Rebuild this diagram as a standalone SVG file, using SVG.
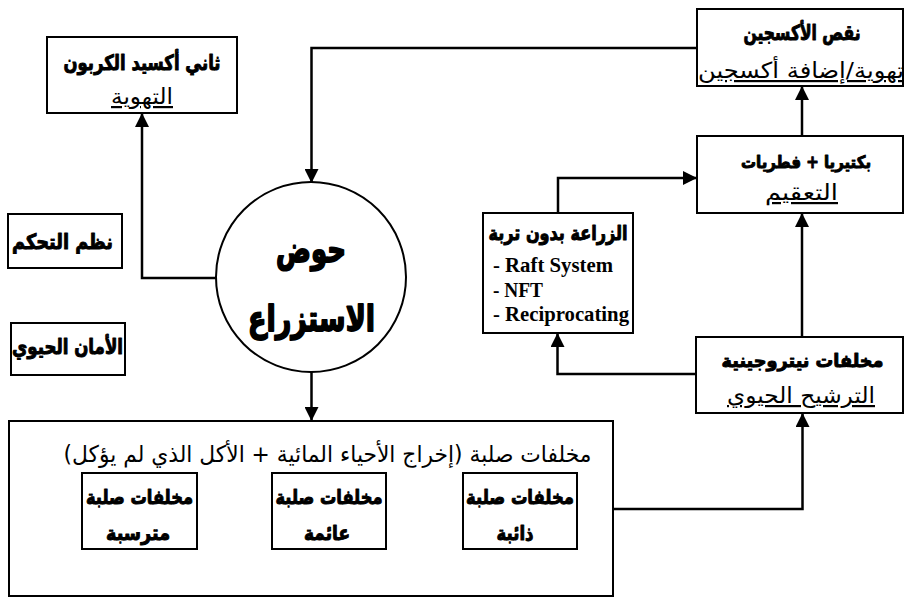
<svg xmlns="http://www.w3.org/2000/svg" width="905" height="597" viewBox="0 0 905 597">
<style>
.box{fill:#fff;stroke:#000;stroke-width:2}
.con{fill:none;stroke:#000;stroke-width:2.5;marker-end:url(#ah)}
.h{font-family:"DejaVu Sans","Noto Sans",sans-serif;font-weight:bold;fill:#000;stroke:#000;stroke-width:1;stroke-linejoin:round;text-anchor:middle}
.big{stroke-width:1.8}
.r{font-family:"DejaVu Sans","Noto Sans",sans-serif;fill:#000;text-anchor:middle}
.u{text-decoration:underline}
.en{font-family:"Liberation Serif","Times New Roman",serif;font-weight:bold;font-size:20px;fill:#000}
</style>
<defs>
<marker id="ah" markerUnits="userSpaceOnUse" markerWidth="14" markerHeight="14" refX="14" refY="7" orient="auto">
<path d="M0,0 L14,7 L0,14 z" fill="#000"/>
</marker>
</defs>
<rect width="905" height="597" fill="#fff"/>
<g id="connectors">
<path class="con" d="M216,278 H142 V113"/>
<path class="con" d="M697,48 H311.5 V183"/>
<path class="con" d="M802,136 V86"/>
<path class="con" d="M558,213 V178 H697"/>
<path class="con" d="M802,337 V213"/>
<path class="con" d="M696,374 H557.5 V333"/>
<path class="con" d="M613,509 H802.5 V413"/>
<path class="con" d="M311.5,372 V421"/>
</g>
<g id="n-co2">
<rect class="box" x="47" y="37" width="190" height="76"/>
<text class="h" x="142" y="70" font-size="21" textLength="157" lengthAdjust="spacingAndGlyphs">ثاني أكسيد الكربون</text>
<text class="r u" x="142" y="104" font-size="22" textLength="62" lengthAdjust="spacingAndGlyphs">التهوية</text>
</g>
<g id="n-o2">
<rect class="box" x="697" y="9" width="206" height="77"/>
<text class="h" x="802" y="40" font-size="21" textLength="117" lengthAdjust="spacingAndGlyphs">نقص الأكسجين</text>
<text class="r u" x="801" y="78" font-size="22" textLength="206" lengthAdjust="spacingAndGlyphs">تهوية/إضافة أكسجين</text>
</g>
<g id="n-bact">
<rect class="box" x="697" y="136" width="206" height="77"/>
<text class="h" x="806" y="168" font-size="17" textLength="130" lengthAdjust="spacingAndGlyphs">بكتيريا + فطريات</text>
<text class="r u" x="801.5" y="200" font-size="22" textLength="73" lengthAdjust="spacingAndGlyphs">التعقيم</text>
</g>
<g id="n-hydro">
<rect class="box" x="483" y="213" width="150" height="120"/>
<text class="h" x="558" y="240" font-size="20" textLength="139" lengthAdjust="spacingAndGlyphs">الزراعة بدون تربة</text>
<text class="en" x="493" y="272" textLength="120" lengthAdjust="spacingAndGlyphs">- Raft System</text>
<text class="en" x="493" y="297" textLength="50" lengthAdjust="spacingAndGlyphs">- NFT</text>
<text class="en" x="493" y="321" textLength="136" lengthAdjust="spacingAndGlyphs">- Reciprocating</text>
</g>
<g id="n-nitro">
<rect class="box" x="696" y="337" width="207" height="76"/>
<text class="h" x="802.5" y="367" font-size="18" textLength="162" lengthAdjust="spacingAndGlyphs">مخلفات نيتروجينية</text>
<text class="r u" x="801" y="403" font-size="22" textLength="148" lengthAdjust="spacingAndGlyphs">الترشيح الحيوي</text>
</g>
<g id="n-tank">
<circle cx="311" cy="277" r="95" fill="#fff" stroke="#000" stroke-width="2"/>
<text class="h big" x="311" y="262" font-size="36" textLength="70" lengthAdjust="spacingAndGlyphs">حوض</text>
<text class="h big" x="311.5" y="331" font-size="36" textLength="127" lengthAdjust="spacingAndGlyphs">الاستزراع</text>
</g>
<g id="n-control">
<rect class="box" x="8" y="214" width="114" height="54"/>
<text class="h" x="62.5" y="249" font-size="21" textLength="101" lengthAdjust="spacingAndGlyphs">نظم التحكم</text>
</g>
<g id="n-biosec">
<rect class="box" x="11" y="323" width="114" height="52"/>
<text class="h" x="67.5" y="354" font-size="21" textLength="111" lengthAdjust="spacingAndGlyphs">الأمان الحيوي</text>
</g>
<g id="n-solid">
<rect class="box" x="9" y="421" width="604" height="175"/>
<text class="r" x="327.5" y="462" font-size="23" textLength="528" lengthAdjust="spacingAndGlyphs">مخلفات صلبة (إخراج الأحياء المائية + الأكل الذي لم يؤكل)</text>
</g>
<g id="n-settled">
<rect class="box" x="82" y="473" width="115" height="76"/>
<text class="h" x="139.5" y="504" font-size="20" textLength="107" lengthAdjust="spacingAndGlyphs">مخلفات صلبة</text>
<text class="h" x="138" y="540" font-size="20" textLength="64" lengthAdjust="spacingAndGlyphs">مترسبة</text>
</g>
<g id="n-floating">
<rect class="box" x="272" y="473" width="114" height="76"/>
<text class="h" x="329" y="504" font-size="20" textLength="107" lengthAdjust="spacingAndGlyphs">مخلفات صلبة</text>
<text class="h" x="327" y="540" font-size="20" textLength="46" lengthAdjust="spacingAndGlyphs">عائمة</text>
</g>
<g id="n-dissolved">
<rect class="box" x="463" y="473" width="114" height="76"/>
<text class="h" x="520" y="504" font-size="20" textLength="108" lengthAdjust="spacingAndGlyphs">مخلفات صلبة</text>
<text class="h" x="515" y="540" font-size="20" textLength="37" lengthAdjust="spacingAndGlyphs">ذائبة</text>
</g>
</svg>
